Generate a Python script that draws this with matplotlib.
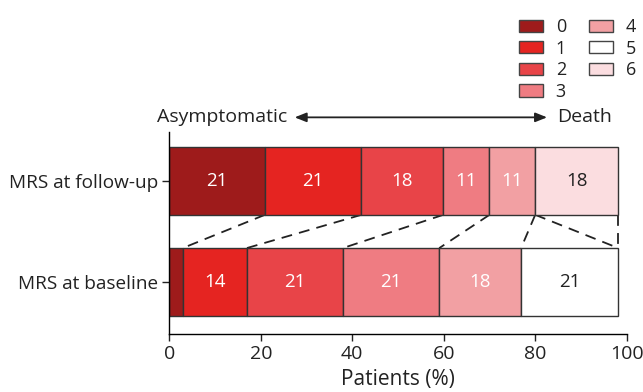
import matplotlib
matplotlib.use("Agg")
import matplotlib.pyplot as plt
from matplotlib.patches import Patch
import numpy as np

plt.rcParams['font.family'] = ['Open Sans', 'DejaVu Sans']

categories = ["MRS at baseline", "MRS at follow-up"]
mrs_classes = ["0", "1", "2", "3", "4", "5", "6"]
# bar widths (% of patients) as drawn
baseline_vals = [2.9, 14.0, 21.0, 21.1, 17.9, 21.3, 0.0]
followup_vals = [20.9, 21.1, 17.9, 10.1, 10.0, 0.0, 18.2]
baseline_labels = ["", "14", "21", "21", "18", "21", ""]
followup_labels = ["21", "21", "18", "11", "11", "", "18"]
colors = ["#9e1b1b", "#e52421", "#e84448", "#ef7c82", "#f2a0a3", "#ffffff", "#fbdde0"]
text_colors = ["white", "white", "white", "white", "white", "#222222", "#222222"]
xticks = [0, 20, 40, 60, 80, 100]

fig = plt.figure(figsize=(6.43, 3.92), dpi=100)
ax = fig.add_axes([169.3/643, 1-334/392, (626.7-169.3)/643, (334-132)/392])

bar_h = 0.67
rows = [baseline_vals, followup_vals]
labs = [baseline_labels, followup_labels]
for yi, (vals, lab) in enumerate(zip(rows, labs)):
    left = 0.0
    for k, v in enumerate(vals):
        if v > 0:
            ax.barh(yi, v, left=left, height=bar_h, color=colors[k],
                    edgecolor="#333333", linewidth=1.0, zorder=2)
            if lab[k]:
                ax.text(left + v/2, yi, lab[k], ha="center", va="center",
                        color=text_colors[k], fontsize=13.5, zorder=3)
        left += v

# dashed connectors
cb = np.cumsum(baseline_vals)
cf = np.cumsum(followup_vals)
for k in range(len(mrs_classes)):
    ax.plot([cf[k], cb[k]], [1 - bar_h/2, 0 + bar_h/2], ls=(0, (6, 4)),
            color="#222222", lw=1.3, zorder=1)

ax.set_xlim(0, 100)
ax.set_ylim(-0.515, 1.485)
ax.set_yticks([0, 1])
ax.set_yticklabels(categories, fontsize=13.7, color="#222222")
ax.set_xticks(xticks)
ax.set_xticklabels([str(t) for t in xticks], fontsize=14, color="#222222")
ax.set_xlabel("Patients (%)", fontsize=15, labelpad=4.5, color="#222222")
for s in ["top", "right"]:
    ax.spines[s].set_visible(False)
ax.tick_params(axis="both", direction="out", length=5, width=1, color="#222222", pad=3)
ax.spines["left"].set_linewidth(1)
ax.spines["bottom"].set_linewidth(1)

# severity arrow
ya = 1.63
ax.annotate("", xy=(83.2, ya), xytext=(26.8, ya),
            arrowprops=dict(arrowstyle="<|-|>,head_length=0.7,head_width=0.28",
                            color="#222222", lw=1.3), annotation_clip=False)
ax.text(-2.7, ya, "Asymptomatic", ha="left", va="center", fontsize=14,
        color="#222222", clip_on=False)
ax.text(84.7, ya, "Death", ha="left", va="center", fontsize=14,
        color="#222222", clip_on=False)

handles = [Patch(facecolor=c, edgecolor="#444444", linewidth=1) for c in colors]
leg = fig.legend(handles, mrs_classes, ncol=2, loc="upper left",
                 bbox_to_anchor=(519/643, 1-18/392), frameon=False, fontsize=13,
                 handlelength=1.33, handleheight=0.67, handletextpad=0.7,
                 columnspacing=1.3, labelspacing=0.2, borderpad=0, borderaxespad=0)
for t in leg.get_texts():
    t.set_color("#222222")

fig.savefig("out.png", dpi=100)
